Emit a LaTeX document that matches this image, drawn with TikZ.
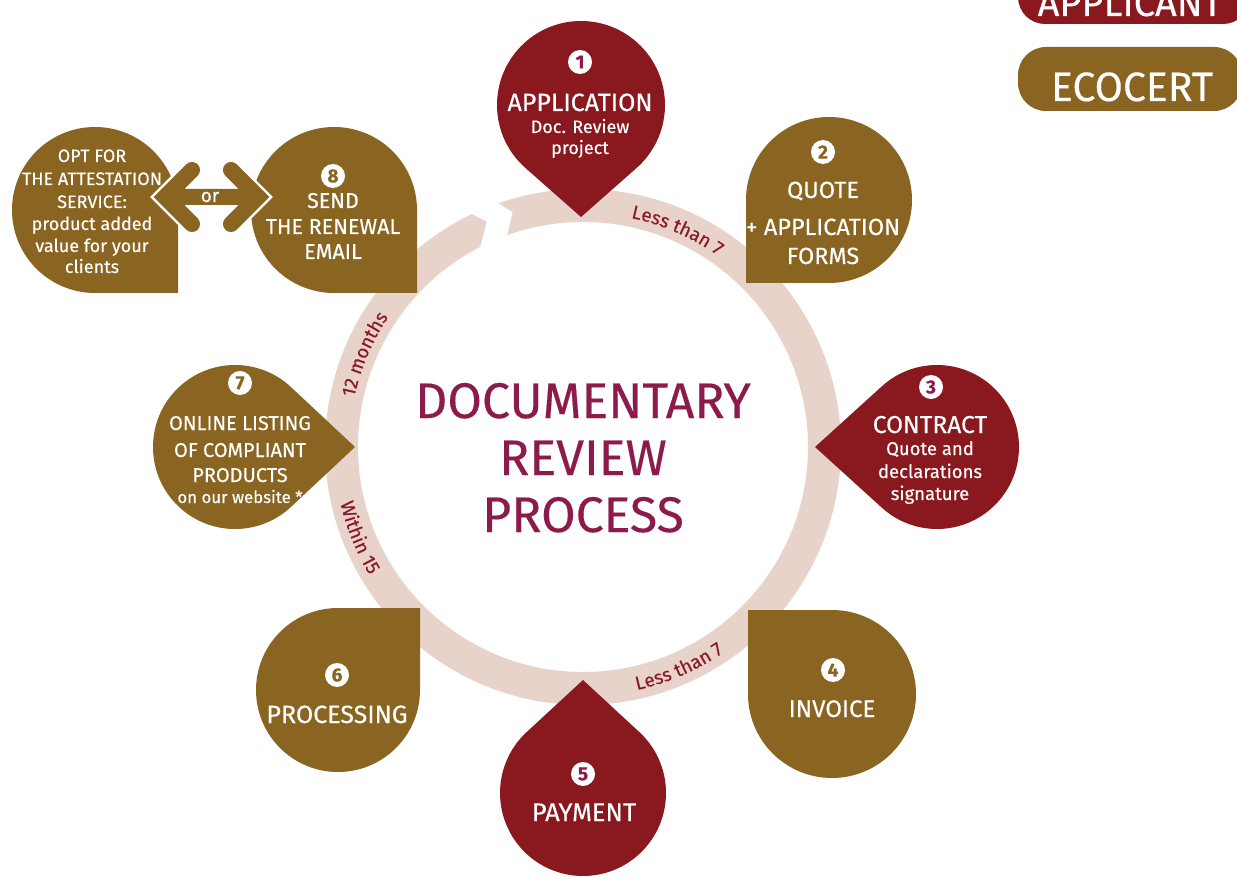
\documentclass[tikz,border=0pt]{standalone}
\usepackage{fontspec}
\setmainfont{Fira Sans}[FakeBold=0.3]
\usetikzlibrary{decorations.text}
\definecolor{ringc}{HTML}{E8D3CA}
\definecolor{dred}{HTML}{8A191F}
\definecolor{brn}{HTML}{8A6421}
\definecolor{ttl}{HTML}{8C1A4A}
\definecolor{lab}{HTML}{8A1A2A}
\newcommand\FS[1]{\fontsize{#1}{#1}\selectfont}
% teardrop: colour, cx, cy, radius, tip direction, tip distance
\newcommand\Drop[6]{%
  \pgfmathsetmacro\dropalpha{acos(#4/#6)}%
  \fill[#1, shift={(#2,#3)}] ({#5}:#6) -- ({#5+\dropalpha}:#4)
    arc[start angle={#5+\dropalpha}, end angle={#5+360-\dropalpha}, radius=#4] -- cycle;}
% leaf with one square corner: colour, cx, cy, radius, corner direction
\newcommand\Leaf[5]{%
  \fill[#1, shift={(#2,#3)}] ({#5}:{#4*1.41421}) -- ({#5+45}:#4)
    arc[start angle={#5+45}, end angle={#5+315}, radius=#4] -- cycle;}
\tikzset{
  wt/.style={text=white, anchor=base, inner sep=0},
  num/.style={circle, fill=white, inner sep=0, minimum size=24, font=\FS{19}\bfseries},
  ringlab/.style={decorate, shift={(583,447)}},
  tt/.style={text=ttl, anchor=base, inner sep=0, font=\FS{50}}
}
\begin{document}
\begin{tikzpicture}[x=1pt,y=-1pt]
\fill[white] (0,0) rectangle (1237,877);
\useasboundingbox (0,0) rectangle (1237,877);
% ring
\draw[ringc, line width=33] (583,447) circle[radius=241.5];
\fill[white, shift={(583,447)}] (-116.8:266) -- (-113.1:245) -- (-118.1:221)
   -- (-110.4:221) -- (-106.7:245) -- (-110.5:266) -- cycle;
% ring labels
\path[ringlab, decoration={text along path, text align=center, text={|\FS{19}\color{lab}|Less than 7}}]
  (-95:234) arc[start angle=-95, end angle=-38, radius=234];
\path[ringlab, decoration={text along path, text align=center, text={|\FS{19}\color{lab}|Less than 7}}]
  (95:249) arc[start angle=95, end angle=38, radius=249];
\path[ringlab, decoration={text along path, text align=center, text={|\FS{19}\color{lab}|12 months}}]
  (173:234) arc[start angle=173, end angle=233, radius=234];
\path[ringlab, decoration={text along path, text align=center, text={|\FS{19}\color{lab}|Within 15}}]
  (188:249) arc[start angle=188, end angle=128, radius=249];
% droplets
\Drop{dred}{581}{105}{84}{90}{112}
\Leaf{brn}{829}{200}{83}{135}
\Drop{dred}{937}{447}{82}{180}{122}
\Leaf{brn}{832}{694}{84}{-135}
\Drop{dred}{583}{793}{83}{-90}{113}
\Leaf{brn}{338}{690}{82}{-45}
\Drop{brn}{235}{447}{82}{0}{120}
\Leaf{brn}{334}{210}{83}{45}
\Leaf{brn}{95}{210}{83}{45}
% double arrow "or"
\draw[white, line width=21, line join=miter, line cap=round]
  (192,170) -- (165,197) -- (192,224) (165,197) -- (258,197) (231,170) -- (258,197) -- (231,224);
\draw[brn, line width=16, line join=miter, line cap=round]
  (192,170) -- (165,197) -- (192,224) (165,197) -- (258,197) (231,170) -- (258,197) -- (231,224);
\node[wt, font=\FS{19}] (or) at (210,202) {or};
% numbers
\node[num, text=ttl] (n1) at (580,62) {1};
\node[num, text=brn] (n2) at (823,152) {2};
\node[num, text=ttl] (n3) at (931,387) {3};
\node[num, text=brn] (n4) at (833,670) {4};
\node[num, text=ttl] (n5) at (583,774) {5};
\node[num, text=brn] (n6) at (337,675) {6};
\node[num, text=brn] (n7) at (240,383) {7};
\node[num, text=brn] (n8) at (333,176) {8};
% step 1
\node[wt, font=\FS{25}] (a1) at (580,111) {APPLICATION};
\node[wt, font=\FS{18}] (a2) at (580,133) {Doc. Review};
\node[wt, font=\FS{18}] (a3) at (580,154) {project};
% step 2
\node[wt, font=\FS{23.5}] (b1) at (823,198) {QUOTE};
\node[wt, font=\FS{23.5}] (b2) at (823,235) {+ APPLICATION};
\node[wt, font=\FS{23.5}] (b3) at (823,264) {FORMS};
% step 3
\node[wt, font=\FS{24.5}] (c1) at (930,433) {CONTRACT};
\node[wt, font=\FS{18.5}] (c2) at (930,455) {Quote and};
\node[wt, font=\FS{18.5}] (c3) at (930,478) {declarations};
\node[wt, font=\FS{18.5}] (c4) at (930,500) {signature};
% steps 4-6
\node[wt, font=\FS{24}] (d1) at (832,717) {INVOICE};
\node[wt, font=\FS{25.5}] (e1) at (584,821) {PAYMENT};
\node[wt, font=\FS{25}] (f1) at (337,723) {PROCESSING};
% step 7
\node[wt, font=\FS{20}] (g1) at (240,430) {ONLINE LISTING};
\node[wt, font=\FS{20}] (g2) at (240,457) {OF COMPLIANT};
\node[wt, font=\FS{20}] (g3) at (240,482) {PRODUCTS};
\node[wt, font=\FS{16.8}] (g4) at (240,503) {on our website *};
% step 8
\node[wt, font=\FS{21.5}] (h1) at (333,208) {SEND};
\node[wt, font=\FS{21.5}] (h2) at (333,234) {THE RENEWAL};
\node[wt, font=\FS{21.5}] (h3) at (333,259) {EMAIL};
% option
\node[wt, font=\FS{18}] (o1) at (92,162) {OPT FOR};
\node[wt, font=\FS{18}] (o2) at (92,185) {THE ATTESTATION};
\node[wt, font=\FS{18}] (o3) at (92,208) {SERVICE:};
\node[wt, font=\FS{18}] (o4) at (92,230) {product added};
\node[wt, font=\FS{18}] (o5) at (92,252) {value for your};
\node[wt, font=\FS{18}] (o6) at (92,273) {clients};
% title
\node[tt] (t1) at (583,418) {DOCUMENTARY};
\node[tt] (t2) at (583,475) {REVIEW};
\node[tt] (t3) at (583,532) {PROCESS};
% legend
\fill[dred, rounded corners=27] (1018,-40) rectangle (1250,24);
\node[wt, font=\FS{38}] (l1) at (1130,16) {APPLICANT};
\fill[brn, rounded corners=28] (1018,47) rectangle (1242,111);
\node[wt, font=\FS{41}] (l2) at (1132,101) {ECOCERT};
\end{tikzpicture}
\end{document}
